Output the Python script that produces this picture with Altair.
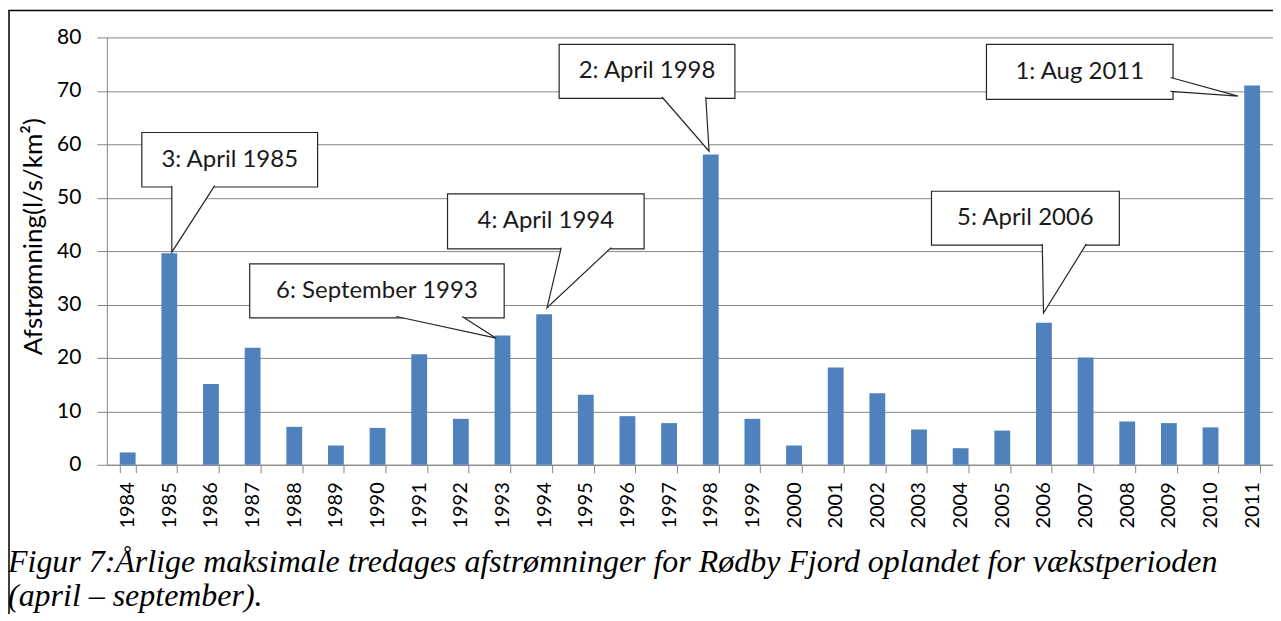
import altair as alt
import pandas as pd

# ---------------- data ----------------
years = ["1984", "1985", "1986", "1987", "1988", "1989", "1990", "1991", "1992", "1993",
         "1994", "1995", "1996", "1997", "1998", "1999", "2000", "2001", "2002", "2003",
         "2004", "2005", "2006", "2007", "2008", "2009", "2010", "2011"]
values = [2.3, 39.6, 15.1, 21.9, 7.1, 3.6, 6.9, 20.7, 8.6, 24.2,
          28.2, 13.1, 9.1, 7.8, 58.1, 8.6, 3.6, 18.2, 13.4, 6.6,
          3.1, 6.4, 26.6, 20.1, 8.1, 7.8, 7.0, 71.0]
y_ticks = [0, 10, 20, 30, 40, 50, 60, 70, 80]

# callouts (annotation geometry in axis units: x = category index 0..28, y = value)
callout_labels = ["1: Aug 2011", "2: April 1998", "3: April 1985",
                  "4: April 1994", "5: April 2006", "6: September 1993"]
box_left = [21.12, 10.86, 0.84, 8.18, 19.80, 3.43]
box_right = [25.60, 15.08, 5.06, 12.90, 24.31, 9.54]
box_bottom = [68.4, 68.6, 52.0, 40.4, 41.1, 27.5]
box_top = [78.7, 78.7, 62.2, 50.7, 51.2, 37.6]
base_a_x = [25.54, 13.33, 1.56, 10.91, 22.46, 6.95]
base_a_y = [72.5, 68.85, 52.25, 40.65, 41.35, 27.75]
base_b_x = [25.54, 14.38, 2.59, 12.11, 23.52, 8.53]
base_b_y = [69.9, 68.85, 52.25, 40.65, 41.35, 27.75]
tip_x = [27.16, 14.46, 1.56, 10.57, 22.49, 9.35]
tip_y = [69.0, 58.7, 39.8, 29.4, 28.4, 23.7]

caption_line1 = "Figur 7:Årlige maksimale tredages afstrømninger for Rødby Fjord oplandet for vækstperioden"
caption_line2 = "(april – september)."

# ---------------- tables ----------------
bar_df = pd.DataFrame({"year": years, "value": values})
box_df = pd.DataFrame({
    "label": callout_labels,
    "x0": box_left, "x1": box_right, "y0": box_bottom, "y1": box_top,
})
box_df["cx"] = (box_df["x0"] + box_df["x1"]) / 2
box_df["cy"] = (box_df["y0"] + box_df["y1"]) / 2

rows = []
for i in range(len(callout_labels)):
    rows.append({"id": i, "k": 0, "x": base_a_x[i], "y": base_a_y[i]})
    rows.append({"id": i, "k": 1, "x": tip_x[i], "y": tip_y[i]})
    rows.append({"id": i, "k": 2, "x": base_b_x[i], "y": base_b_y[i]})
ptr_df = pd.DataFrame(rows)

W, H = 1168, 428
GRID = "#868686"
BAR = "#4F81BD"
EDGE = "#262626"

xs = alt.Scale(domain=[0, len(years)], nice=False, zero=False)
ys = alt.Scale(domain=[0, 80], nice=False)

bars = alt.Chart(bar_df).mark_bar(color=BAR).encode(
    x=alt.X("year:N", sort=years,
            scale=alt.Scale(paddingInner=0.62, paddingOuter=0.31),
            axis=alt.Axis(title=None, labelAngle=-90, labelAlign="right", labelBaseline="middle",
                          tickBand="extent", tickSize=8, tickColor=GRID, domainColor=GRID,
                          labelFont="Lato", labelFontSize=20, labelColor="black",
                          labelPadding=9, grid=False)),
    y=alt.Y("value:Q", scale=ys,
            axis=alt.Axis(values=y_ticks, title="Afstrømning(l/s/km²)",
                          titleFont="Lato", titleFontSize=26, titleFontWeight="normal",
                          titleColor="black", titlePadding=10, titleY=199,
                          labelFont="Lato", labelFontSize=21, labelColor="black",
                          labelPadding=16, tickSize=10, tickColor=GRID,
                          domainColor=GRID, gridColor=GRID, gridWidth=1, grid=True)),
)

one = pd.DataFrame({"a": [0]})
frame = alt.Chart(one).mark_rect(
    fillOpacity=0, stroke="black", strokeWidth=1.5
).encode(x=alt.value(-98), x2=alt.value(1500), y=alt.value(-27), y2=alt.value(1000))

cap1 = alt.Chart(one).mark_text(
    font="Liberation Serif", fontStyle="italic", fontSize=32, color="black",
    align="left", baseline="alphabetic"
).encode(x=alt.value(-99), y=alt.value(535), text=alt.value(caption_line1))
cap2 = alt.Chart(one).mark_text(
    font="Liberation Serif", fontStyle="italic", fontSize=32, color="black",
    align="left", baseline="alphabetic"
).encode(x=alt.value(-99), y=alt.value(569), text=alt.value(caption_line2))

boxes = alt.Chart(box_df).mark_rect(fill="white", stroke=EDGE, strokeWidth=1.2).encode(
    x=alt.X("x0:Q", scale=xs, axis=None), x2="x1:Q",
    y=alt.Y("y0:Q", scale=ys, axis=None), y2="y1:Q",
)

pointers = alt.Chart(ptr_df).mark_line(fill="white", stroke=EDGE, strokeWidth=1.2).encode(
    x=alt.X("x:Q", scale=xs, axis=None),
    y=alt.Y("y:Q", scale=ys, axis=None),
    order="k:Q", detail="id:N",
)

texts = alt.Chart(box_df).mark_text(font="Lato", fontSize=24, color="#1a1a1a",
                                    baseline="middle", align="center").encode(
    x=alt.X("cx:Q", scale=xs, axis=None),
    y=alt.Y("cy:Q", scale=ys, axis=None),
    text="label:N",
)

chart = alt.layer(bars, boxes, pointers, texts, frame, cap1, cap2).resolve_scale(
    x="independent", y="independent"
).properties(
    width=W, height=H,
    padding={"left": 99, "top": 29, "right": 0, "bottom": 149},
    autosize=alt.AutoSizeParams(type="none"),
).configure_view(stroke=None)

chart.save("out.html", embed_options={"renderer": "svg", "actions": False})
